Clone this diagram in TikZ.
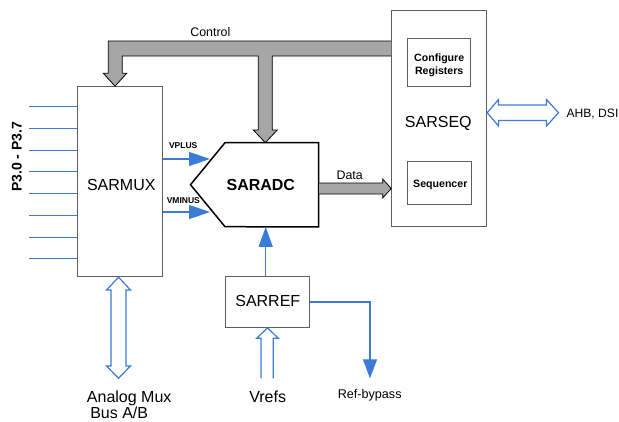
\documentclass[tikz,border=0pt]{standalone}
\usepackage{fontspec}
\setmainfont{Liberation Sans}
\usetikzlibrary{arrows.meta,calc}
\definecolor{sblue}{RGB}{58,124,214}
\definecolor{bgray}{RGB}{166,166,166}
\definecolor{edgegray}{RGB}{95,95,95}
\begin{document}
\begin{tikzpicture}[x=1pt,y=-1pt,
  box/.style={draw=edgegray, line width=1pt, fill=white, inner sep=0pt},
  txt/.style={inner sep=0pt, anchor=base},
  bl/.style={draw=sblue, line width=1.3pt},
  barrow/.style={bl, -{Triangle[length=20pt,width=14pt]}, sblue},
  hollow/.style={draw=sblue, line width=1.2pt, fill=white, line join=miter},
  bus/.style={draw=black, line width=0.8pt, fill=bgray, line join=miter},
  big/.style={font=\fontsize{16}{19}\selectfont},
  mid/.style={font=\fontsize{12.4}{15}\selectfont},
  smb/.style={font=\fontsize{10.6}{13}\selectfont\bfseries},
  tinyb/.style={font=\fontsize{8.5}{10}\selectfont\bfseries}]
\useasboundingbox (0,0) rectangle (619,421);

% input lines
\foreach \yy [count=\i] in {106.7,128.7,150.7,171.7,193.7,215.7,237.3,258.7}
  {\coordinate (in\i) at (29,\yy);}
% boxes
\node[box, minimum width=84.3pt, minimum height=190pt] (mux) at (119.85,181.7) {};
\foreach \i in {1,...,8} {\draw[bl] (in\i) -- (in\i -| mux.west);}
\node[box, minimum width=95pt, minimum height=215.3pt] (seq) at (439.2,118.35) {};
\node[box, minimum width=62.7pt, minimum height=48.4pt] (cfg) at (438.65,62.5) {};
\node[box, minimum width=64.4pt, minimum height=42.3pt] (sqc) at (439.5,182.85) {};
\node[box, minimum width=84pt, minimum height=50.6pt] (ref) at (267,302) {};
\node[inner sep=0pt, minimum width=127.6pt, minimum height=84pt] (adc) at (254.5,184.7) {};

% control bus
\draw[bus] (seq.west |- 0,41) -- (108.3,41) -- (108.3,73.3) -- (103.3,73.3)
  -- (mux.north -| 115,0) -- (126.7,73.3) -- (122.3,73.3) -- (122.3,56)
  -- (258.3,56) -- (258.3,130) -- (253.3,130) -- (265.3,142.7) -- (277.3,130)
  -- (272.3,130) -- (272.3,56) -- (seq.west |- 0,56);

% SARADC pentagon
\draw[black, line width=1.5pt, fill=white, line join=miter]
  (225,142.7) -- (adc.north east) -- (adc.south east) -- (225,226.7) -- (adc.west) -- cycle;

% data arrow
\draw[bus] (adc.east |- 0,183) -- (382.7,183) -- (382.7,179) -- (seq.west |- 0,188.5)
  -- (382.7,198) -- (382.7,194) -- (adc.east |- 0,194) -- cycle;

% VPLUS / VMINUS
\coordinate (vp) at (210,159);
\coordinate (vm) at (210,212);
\draw[barrow, -{Triangle[length=21pt,width=14pt]}] (mux.east |- vp) -- (vp);
\draw[barrow, -{Triangle[length=21pt,width=14pt]}] (mux.east |- vm) -- (vm);

% ref to adc
\draw[barrow] ($(ref.north)+(-1.3,0)$) -- ($(ref.north |- adc.south)+(-1.3,0)$);
% ref bypass
\coordinate (byp) at (370,378.3);
\draw[barrow, -{Triangle[length=19pt,width=14pt]}] (ref.east) -| (byp);

% Vrefs hollow arrow
\draw[hollow] (261,378.3) -- (261,338.3) -- (256.7,338.3) -- (ref.south -| 267.5,0)
  -- (278.3,338.3) -- (273.3,338.3) -- (273.3,378.3);

% analog mux double arrow
\draw[hollow] (mux.south -| 118.5,0) -- (130.5,290) -- (126,290) -- (126,366) -- (130.5,366)
  -- (118.5,378.3) -- (106.5,366) -- (111,366) -- (111,290) -- (106.5,290) -- cycle;

% AHB double arrow
\draw[hollow] (seq.east |- 0,112.7) -- (498.5,99.5) -- (498.5,105) -- (546.5,105) -- (546.5,99.5)
  -- (558.5,112.7) -- (546.5,126) -- (546.5,120.5) -- (498.5,120.5) -- (498.5,126) -- cycle;

% texts
\node[txt, big] (tmux) at (121.3,190.4) {SARMUX};
\node[txt, big, font=\fontsize{16}{19}\selectfont\bfseries] (tadc) at (260.8,190.2) {SARADC};
\node[txt, big] (tseq) at (438.3,127.4) {SARSEQ};
\node[txt, big] (tref) at (267.8,306.5) {SARREF};
\node[txt, big] (tvr) at (267.7,402.4) {Vrefs};
\node[txt, big] (tam1) at (129.2,402.4) {Analog Mux};
\node[txt, big] (tam2) at (119.2,418.3) {Bus A/B};
\node[txt, mid] (tctl) at (210.3,36.2) {Control};
\node[txt, mid] (tdata) at (349.7,179.1) {Data};
\node[txt, mid, font=\fontsize{12.1}{15}\selectfont] (tahb) at (592.5,117.1) {AHB, DSI};
\node[txt, mid, font=\fontsize{12.6}{15}\selectfont] (tbyp) at (369.7,398.2) {Ref-bypass};
\node[txt, smb] (tcfg1) at (439.2,61.1) {Configure};
\node[txt, smb] (tcfg2) at (439.2,74.8) {Registers};
\node[txt, smb] (tsqc) at (440.3,187.8) {Sequencer};
\node[txt, tinyb] (tvp) at (183.2,148.8) {VPLUS};
\node[txt, tinyb] (tvm) at (183.3,203.9) {VMINUS};
\node[txt, font=\fontsize{14}{17}\selectfont\bfseries, rotate=90] (tp3) at (21.7,156.7) {P3.0 - P3.7};
\end{tikzpicture}
\end{document}
